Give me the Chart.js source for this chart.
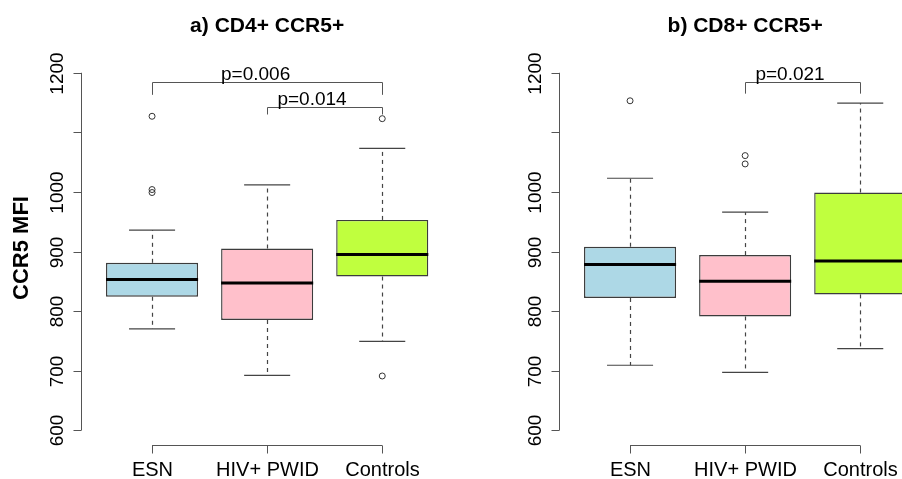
<!DOCTYPE html>
<html>
<head>
<meta charset="utf-8">
<script src="https://cdn.jsdelivr.net/npm/chart.js@4.4.1/dist/chart.umd.min.js"></script>
<style>
    html, body { margin: 0; padding: 0; background: #fff; width: 902px; height: 479px; overflow: hidden; }
    canvas { position: absolute; top: 0; }
    #cd4Chart { left: 0; }
    #cd8Chart { left: 478px; }
</style>
</head>
<body>
<canvas id="cd4Chart" width="470" height="479" style="width:470px;height:479px"></canvas>
<canvas id="cd8Chart" width="470" height="479" style="width:470px;height:479px"></canvas>
<script>
// ── Data ─────────────────────────────────────────────────────────
var groups      = ['ESN', 'HIV+ PWID', 'Controls'];
var boxColors   = ['#ADD8E6', '#FFC0CB', '#C0FF3E'];
var yTicks      = [600, 700, 800, 900, 1000, 1100, 1200];
var yTickLabels = ['600', '700', '800', '900', '1000', '', '1200'];

// a) CD4+ CCR5+
var cd4Low      = [770, 692, 749];
var cd4Q1       = [824, 785, 858];
var cd4Median   = [853, 847, 895];
var cd4Q3       = [881, 905, 953];
var cd4High     = [936, 1012, 1073];
var cd4Outliers = [[1127, 1004, 999], [], [1123, 691]];
var cd4Tests    = [
    { from: 1, to: 3, y: 1184, leg: 1163, label: 'p=0.006', labelX: 1.9 },
    { from: 2, to: 3, y: 1143, leg: 1130, label: 'p=0.014', labelX: 2.39 }
];

// b) CD8+ CCR5+
var cd8Low      = [709, 697, 737];
var cd8Q1       = [822, 791, 828];
var cd8Median   = [878, 850, 884];
var cd8Q3       = [908, 894, 999];
var cd8High     = [1023, 966, 1149];
var cd8Outliers = [[1153], [1061, 1047], []];
var cd8Tests    = [
    { from: 2, to: 3, y: 1184, leg: 1165, label: 'p=0.021', labelX: 2.39 }
];

var FONT = '"Liberation Sans", Arial, sans-serif';

// ── R style boxplot pieces drawn on the Chart.js scales ─────────
function line(ctx, x1, y1, x2, y2) {
    ctx.beginPath();
    ctx.moveTo(x1, y1);
    ctx.lineTo(x2, y2);
    ctx.stroke();
}

function boxPlugin(panel) {
    return {
        id: 'rBoxplot',
        beforeDatasetsDraw: function (chart) {
            var ctx = chart.ctx, xs = chart.scales.x, ys = chart.scales.y;
            ctx.save();
            ctx.strokeStyle = '#444';
            ctx.lineWidth = 1.2;
            groups.forEach(function (g, i) {
                var cx = Math.round(xs.getPixelForValue(i + 1)) + 0.5;
                // dashed whiskers
                ctx.setLineDash([4, 4]);
                line(ctx, cx, ys.getPixelForValue(panel.q3[i]), cx, ys.getPixelForValue(panel.high[i]));
                line(ctx, cx, ys.getPixelForValue(panel.q1[i]), cx, ys.getPixelForValue(panel.low[i]));
                ctx.setLineDash([]);
                // staples
                var l = xs.getPixelForValue(i + 1 - 0.2), r = xs.getPixelForValue(i + 1 + 0.2);
                line(ctx, l, ys.getPixelForValue(panel.high[i]), r, ys.getPixelForValue(panel.high[i]));
                line(ctx, l, ys.getPixelForValue(panel.low[i]), r, ys.getPixelForValue(panel.low[i]));
            });
            ctx.restore();
        },
        afterDatasetsDraw: function (chart) {
            var ctx = chart.ctx, xs = chart.scales.x, ys = chart.scales.y;
            var area = chart.chartArea;
            ctx.save();

            // medians
            ctx.strokeStyle = '#000';
            ctx.lineWidth = 3;
            groups.forEach(function (g, i) {
                var my = ys.getPixelForValue(panel.median[i]);
                line(ctx, xs.getPixelForValue(i + 1 - 0.4), my, xs.getPixelForValue(i + 1 + 0.4), my);
            });

            // y axis (600..1200 only, like R)
            ctx.strokeStyle = '#555';
            ctx.lineWidth = 1;
            var ax = Math.round(area.left) + 0.5;
            line(ctx, ax, ys.getPixelForValue(yTicks[0]), ax, ys.getPixelForValue(yTicks[yTicks.length - 1]));
            ctx.fillStyle = '#000';
            ctx.font = '19px ' + FONT;
            ctx.textAlign = 'center';
            ctx.textBaseline = 'alphabetic';
            yTicks.forEach(function (v, i) {
                var ty = Math.round(ys.getPixelForValue(v)) + 0.5;
                line(ctx, ax - 8, ty, ax, ty);
                if (yTickLabels[i]) {
                    ctx.save();
                    ctx.translate(ax - 19, ty);
                    ctx.rotate(-Math.PI / 2);
                    ctx.fillText(yTickLabels[i], 0, 0);
                    ctx.restore();
                }
            });

            // x axis (first to last group)
            var ay = Math.round(area.bottom) + 0.5;
            line(ctx, xs.getPixelForValue(1), ay, xs.getPixelForValue(groups.length), ay);
            ctx.font = '20px ' + FONT;
            groups.forEach(function (g, i) {
                var tx = Math.round(xs.getPixelForValue(i + 1)) + 0.5;
                line(ctx, tx, ay, tx, ay + 8);
                ctx.fillText(g, tx, ay + 30);
            });

            // significance brackets
            ctx.strokeStyle = '#555';
            ctx.font = '19px ' + FONT;
            panel.tests.forEach(function (t) {
                var x1 = Math.round(xs.getPixelForValue(t.from)) + 0.5;
                var x2 = Math.round(xs.getPixelForValue(t.to)) + 0.5;
                var by = Math.round(ys.getPixelForValue(t.y)) + 0.5;
                var ly = ys.getPixelForValue(t.leg);
                ctx.beginPath();
                ctx.moveTo(x1, ly);
                ctx.lineTo(x1, by);
                ctx.lineTo(x2, by);
                ctx.lineTo(x2, ly);
                ctx.stroke();
                ctx.fillText(t.label, xs.getPixelForValue(t.labelX), by - 3);
            });

            // title
            ctx.font = 'bold 21px ' + FONT;
            ctx.fillText(panel.title, (area.left + area.right) / 2, 32);

            // y label
            if (panel.yLabel) {
                ctx.font = 'bold 22px ' + FONT;
                ctx.save();
                ctx.translate(28, 248);
                ctx.rotate(-Math.PI / 2);
                ctx.fillText(panel.yLabel, 0, 0);
                ctx.restore();
            }
            ctx.restore();
        }
    };
}

function makeChart(canvasId, panel) {
    var boxes = groups.map(function (g, i) {
        return { x: i + 1, y: [panel.q1[i], panel.q3[i]] };
    });
    var outliers = [];
    panel.outliers.forEach(function (list, i) {
        list.forEach(function (v) { outliers.push({ x: i + 1, y: v }); });
    });

    return new Chart(document.getElementById(canvasId), {
        type: 'bar',
        data: {
            datasets: [{
                type: 'bar',
                data: boxes,
                backgroundColor: boxColors,
                borderColor: '#3c3c3c',
                borderWidth: 1.4,
                borderSkipped: false,
                barPercentage: 0.8,
                categoryPercentage: 1
            }, {
                type: 'scatter',
                data: outliers,
                pointStyle: 'circle',
                pointRadius: 3,
                pointBackgroundColor: 'rgba(255,255,255,0)',
                pointBorderColor: '#333',
                pointBorderWidth: 1
            }]
        },
        options: {
            responsive: false,
            animation: false,
            layout: { padding: { left: 80.7, right: 16.4, top: 58.5, bottom: 34.5 } },
            plugins: { legend: { display: false }, tooltip: { enabled: false }, title: { display: false } },
            scales: {
                x: {
                    type: 'linear', display: false, offset: false, min: 0.38, max: 3.62,
                    afterBuildTicks: function (s) { s.ticks = groups.map(function (g, i) { return { value: i + 1 }; }); }
                },
                y: {
                    type: 'linear', display: false, min: 576, max: 1224,
                    afterBuildTicks: function (s) { s.ticks = yTicks.map(function (v) { return { value: v }; }); }
                }
            }
        },
        plugins: [boxPlugin(panel)]
    });
}

makeChart('cd4Chart', {
    title: 'a) CD4+ CCR5+', yLabel: 'CCR5 MFI',
    low: cd4Low, q1: cd4Q1, median: cd4Median, q3: cd4Q3, high: cd4High,
    outliers: cd4Outliers, tests: cd4Tests
});
makeChart('cd8Chart', {
    title: 'b) CD8+ CCR5+', yLabel: '',
    low: cd8Low, q1: cd8Q1, median: cd8Median, q3: cd8Q3, high: cd8High,
    outliers: cd8Outliers, tests: cd8Tests
});
</script>
</body>
</html>
